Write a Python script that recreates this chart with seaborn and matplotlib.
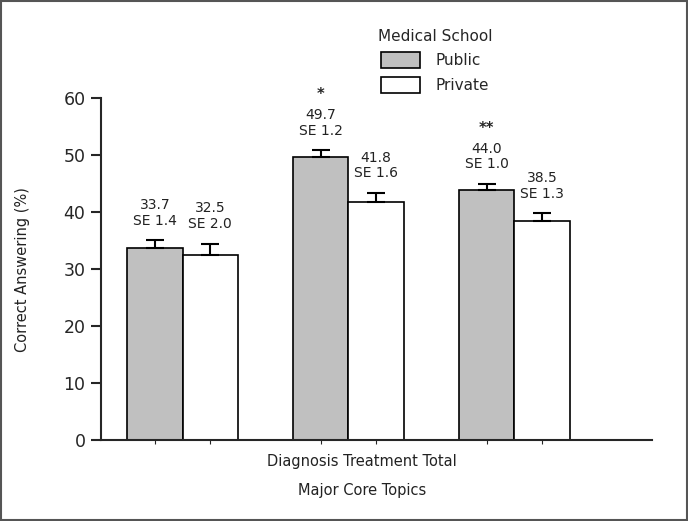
import matplotlib
matplotlib.use("Agg")
import matplotlib.pyplot as plt
import pandas as pd
import seaborn as sns
from matplotlib.patches import Rectangle

# data
topics = ["Diagnosis", "Treatment", "Total"]
schools = ["Public", "Private"]
public_mean = [33.7, 49.7, 44.0]
private_mean = [32.5, 41.8, 38.5]
public_se = [1.4, 1.2, 1.0]
private_se = [2.0, 1.6, 1.3]
significance = ["", "*", "**"]  # public vs private per topic

df = pd.DataFrame(
    {
        "topic": topics * 2,
        "school": ["Public"] * 3 + ["Private"] * 3,
        "value": public_mean + private_mean,
        "se": public_se + private_se,
    }
)

sns.set_style("ticks")
plt.rcParams["font.family"] = ["DejaVu Sans"]
text_color = "#222222"

fig = plt.figure(figsize=(6.88, 5.21), dpi=100)
ax = fig.add_axes([0.1464, 0.1555, 0.8013, 0.6555])

sns.barplot(
    data=df, x="topic", y="value", hue="school", order=topics, hue_order=schools,
    palette={"Public": "#c0c0c0", "Private": "white"}, edgecolor="black",
    linewidth=1.2, width=0.667, gap=0, errorbar=None, ax=ax,
)

# upward-only error bars + value labels
centers = []
for container, school in zip(ax.containers, schools):
    sub = df[df["school"] == school].set_index("topic").loc[topics]
    xs = [bar.get_x() + bar.get_width() / 2 for bar in container]
    centers += xs
    ax.errorbar(xs, sub["value"], yerr=[[0] * len(xs), sub["se"]], fmt="none",
                ecolor="black", elinewidth=1.5, capsize=6.5, capthick=1.5, zorder=3)
    for x, v, s in zip(xs, sub["value"], sub["se"]):
        ax.annotate(f"{v:.1f}\nSE {s:.1f}", (x, v + s), xytext=(0, 9),
                    textcoords="offset points", ha="center", va="bottom",
                    fontsize=10, linespacing=1.15, color=text_color)
    if school == "Public":
        for x, v, s, star in zip(xs, sub["value"], sub["se"], significance):
            if star:
                ax.annotate(star, (x, v + s), xytext=(0, 40), textcoords="offset points",
                            ha="center", va="center", fontsize=10.5, fontweight="bold")

ax.set_ylim(0, 60)
ax.set_xlim(-0.493, 2.83)
ax.set_yticks(range(0, 61, 10))
ax.set_xticks(sorted(centers))
ax.set_xticklabels([])
ax.tick_params(axis="x", length=3, width=0.8, direction="out")
ax.tick_params(axis="y", length=7, width=1.5, labelsize=12.5, pad=4)
for side in ["top", "right"]:
    ax.spines[side].set_visible(False)
for side in ["left", "bottom"]:
    ax.spines[side].set_linewidth(1.5)

ax.set_xlabel("")
ax.set_ylabel("Correct Answering (%)", fontsize=10.5, color=text_color)
ax.yaxis.set_label_coords(-0.128, 0.5)

fig.text(362 / 688, 0.115, " ".join(topics), ha="center", va="center",
         fontsize=10.5, color=text_color)
fig.text(362 / 688, 0.0576, "Major Core Topics", ha="center", va="center",
         fontsize=10.5, color=text_color)

handles, labels = ax.get_legend_handles_labels()
ax.legend(handles, labels, title="Medical School", frameon=False,
          loc="upper center", bbox_to_anchor=(435 / 688, 1 - 21 / 521),
          bbox_transform=fig.transFigure, fontsize=11, title_fontsize=11,
          handlelength=2.6, handleheight=1.25, labelspacing=0.55,
          handletextpad=1.0, borderpad=0)

fig.add_artist(Rectangle((0.001, 0.001), 0.998, 0.998, transform=fig.transFigure,
                         fill=False, edgecolor="#555555", linewidth=1.5))

fig.savefig("out.png", dpi=100)
